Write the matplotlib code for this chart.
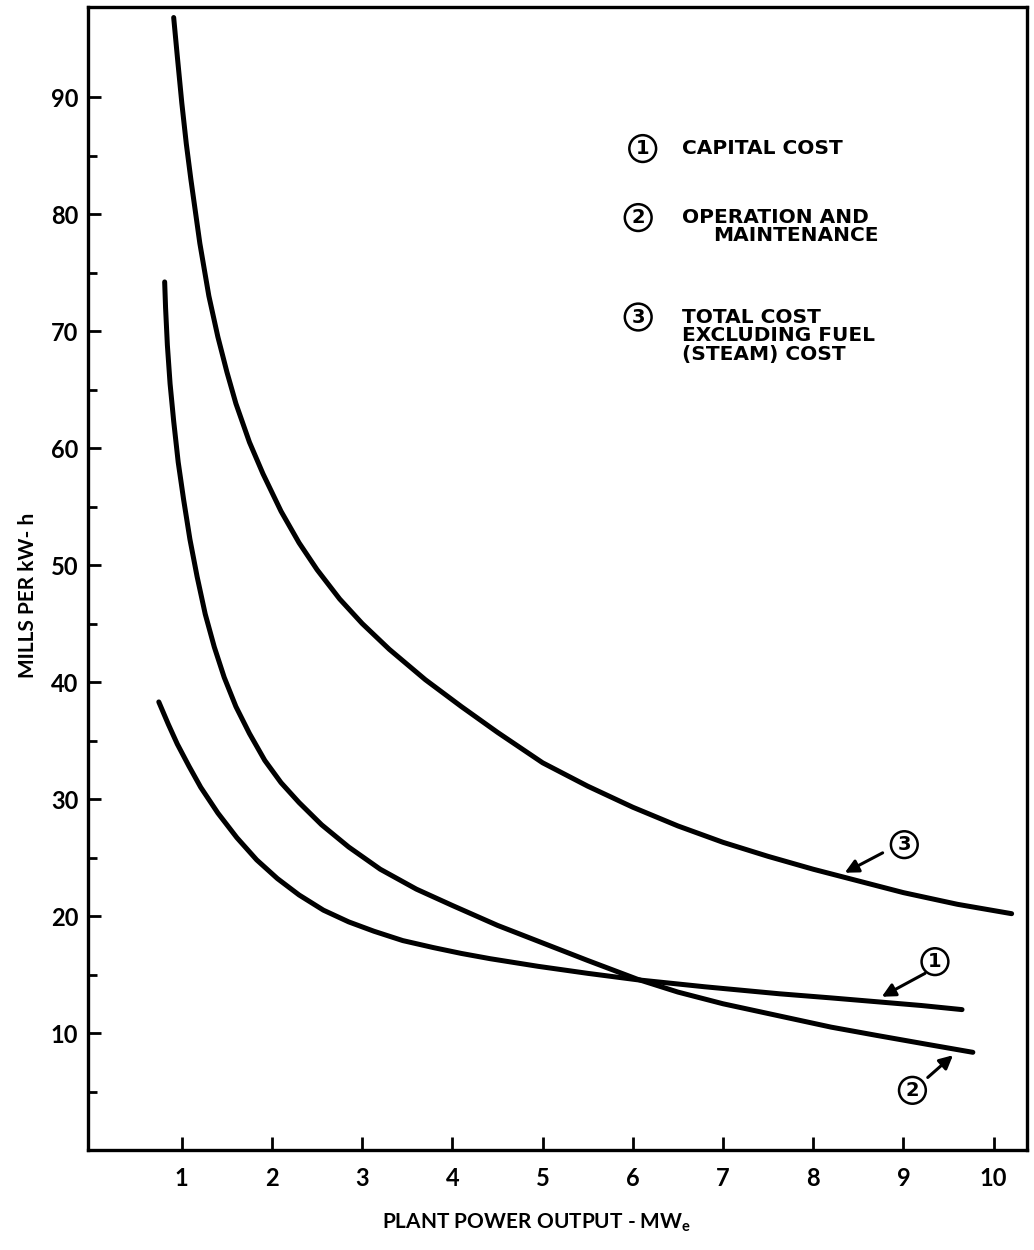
## Plant cost per kW-h vs plant output
import matplotlib.pyplot as plt
import numpy as np

# curve 1 - capital cost
cap_x = [0.745, 0.85, 0.95, 1.08, 1.21, 1.4, 1.61, 1.83, 2.06, 2.3, 2.57, 2.85, 3.13,
         3.45, 3.79, 4.1, 4.42, 4.95, 5.5, 6.05, 6.8, 7.63, 8.2, 8.74, 9.2, 9.65]
cap_y = [38.3, 36.4, 34.7, 32.8, 31.0, 28.8, 26.7, 24.8, 23.2, 21.8, 20.5, 19.5, 18.7,
         17.9, 17.3, 16.8, 16.35, 15.7, 15.1, 14.55, 13.95, 13.35, 13.0, 12.65, 12.35, 12.0]

# curve 2 - operation and maintenance
om_x = [0.81, 0.82, 0.84, 0.87, 0.91, 0.96, 1.02, 1.09, 1.17, 1.26, 1.36, 1.47, 1.6,
        1.75, 1.92, 2.1, 2.3, 2.55, 2.85, 3.2, 3.6, 4.0, 4.5, 5.0, 5.5, 6.05, 6.5,
        7.0, 7.6, 8.2, 8.7, 9.25, 9.77]
om_y = [74.2, 72.0, 68.8, 65.5, 62.3, 58.8, 55.6, 52.2, 49.0, 45.8, 43.0, 40.4, 37.9,
        35.6, 33.3, 31.4, 29.7, 27.8, 25.9, 24.0, 22.3, 20.9, 19.2, 17.7, 16.2, 14.6, 13.5,
        12.5, 11.5, 10.5, 9.8, 9.05, 8.35]

# curve 3 - total cost excluding fuel (steam)
tot_x = [0.91, 0.95, 1.0, 1.05, 1.1, 1.2, 1.3, 1.4, 1.5, 1.6, 1.75, 1.9, 2.1, 2.3, 2.5,
         2.75, 3.0, 3.3, 3.7, 4.1, 4.5, 5.0, 5.5, 6.0, 6.5, 7.0, 7.5, 8.0, 8.5, 9.0,
         9.6, 10.2]
tot_y = [96.8, 93.5, 89.5, 86.0, 83.0, 77.5, 73.0, 69.5, 66.5, 63.8, 60.5, 57.8, 54.6,
         51.9, 49.6, 47.1, 45.0, 42.8, 40.2, 37.9, 35.7, 33.1, 31.1, 29.3, 27.7, 26.3,
         25.1, 24.0, 23.0, 22.0, 21.0, 20.2]

x_ticks = [1, 2, 3, 4, 5, 6, 7, 8, 9, 10]
y_ticks = [10, 20, 30, 40, 50, 60, 70, 80, 90]
y_minor = [5, 15, 25, 35, 45, 55, 65, 75, 85]

plt.rcParams['font.family'] = ['Lato', 'DejaVu Sans']
plt.rcParams['font.weight'] = 'bold'

fig = plt.figure(figsize=(10.34, 12.5), dpi=100)
ax = fig.add_axes([0.0851, 0.08, 0.9081, 0.9144])

lw = 3.6
for xs, ys in [(cap_x, cap_y), (om_x, om_y), (tot_x, tot_y)]:
    ax.plot(xs, ys, color='black', lw=lw, solid_capstyle='round', solid_joinstyle='round')

ax.set_xlim(-0.04, 10.37)
ax.set_ylim(0, 97.7)
ax.set_xticks(x_ticks)
ax.set_yticks(y_ticks)
ax.set_yticks(y_minor, minor=True)
ax.tick_params(axis='both', which='major', direction='in', length=9.5, width=2, labelsize=17)
ax.tick_params(axis='y', which='minor', direction='in', length=6.5, width=2)
ax.tick_params(axis='y', which='major', pad=7)
ax.tick_params(axis='x', which='major', pad=12)
for lab in ax.get_xticklabels() + ax.get_yticklabels():
    lab.set_fontweight('bold')
for sp in ax.spines.values():
    sp.set_linewidth(2.4)

# axis titles
fig.text(537/1034, 1-1223/1250, r'PLANT POWER OUTPUT - MW$_\mathregular{e}$',
         ha='center', va='center', fontsize=15, fontweight='bold')
fig.text(28/1034, 1-595/1250, 'MILLS PER kW- h', rotation=90,
         ha='center', va='center', fontsize=15, fontweight='bold')

# legend block
circ = dict(boxstyle='circle,pad=0.2', fc='none', ec='black', lw=1.8)
leg_font = dict(fontsize=14.5, fontweight='bold', family='DejaVu Sans')
num_font = dict(fontsize=14, fontweight='bold', family='DejaVu Sans')
ax.text(6.11, 85.6, '1', ha='center', va='center', bbox=circ, **num_font)
ax.text(6.55, 85.6, 'CAPITAL COST', ha='left', va='center', **leg_font)
ax.text(6.06, 79.7, '2', ha='center', va='center', bbox=circ, **num_font)
ax.text(6.55, 79.7, 'OPERATION AND', ha='left', va='center', **leg_font)
ax.text(8.73, 78.2, 'MAINTENANCE', ha='right', va='center', **leg_font)
ax.text(6.06, 71.2, '3', ha='center', va='center', bbox=circ, **num_font)
ax.text(6.55, 71.2, 'TOTAL COST', ha='left', va='center', **leg_font)
ax.text(6.55, 69.6, 'EXCLUDING FUEL', ha='left', va='center', **leg_font)
ax.text(6.55, 68.0, '(STEAM) COST', ha='left', va='center', **leg_font)

# curve callouts
arrow = dict(arrowstyle='-|>', color='black', lw=2.2, mutation_scale=20, shrinkA=0, shrinkB=0)
ax.text(9.01, 26.1, '3', ha='center', va='center', bbox=circ, **num_font)
ax.annotate('', xy=(8.35, 23.7), xytext=(8.77, 25.4), arrowprops=arrow)
ax.text(9.35, 16.1, '1', ha='center', va='center', bbox=circ, **num_font)
ax.annotate('', xy=(8.76, 13.1), xytext=(9.24, 15.1), arrowprops=arrow)
ax.text(9.10, 5.1, '2', ha='center', va='center', bbox=circ, **num_font)
ax.annotate('', xy=(9.55, 8.1), xytext=(9.27, 6.2), arrowprops=arrow)

plt.savefig('out.png', dpi=100)
